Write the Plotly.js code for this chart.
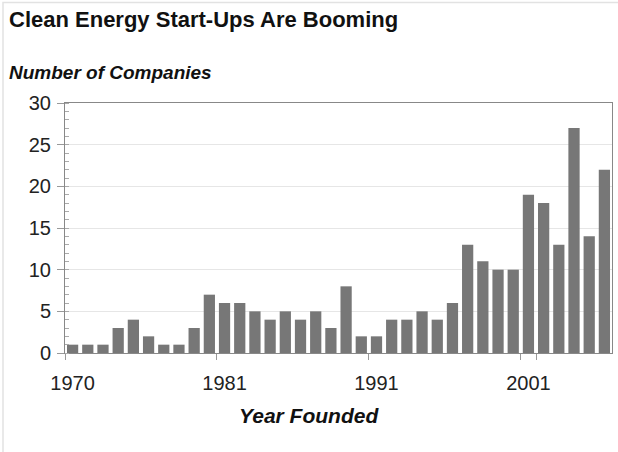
<!DOCTYPE html>
<html>
<head>
<meta charset="utf-8">
<script src="https://cdn.plot.ly/plotly-3.0.1.min.js"></script>
<style>
  html, body { margin: 0; padding: 0; background: #ffffff; }
  #chart { width: 618px; height: 452px; }
</style>
</head>
<body>
<div id="chart"></div>
<script>
// Categories (year founded) and counts
var years = ["1970", "1972", "1973", "1974", "1975", "1976", "1977", "1978", "1979", "1980",
             "1981", "1982", "1983", "1984", "1985", "1986", "1987", "1988", "1989", "1990",
             "1991", "1992", "1993", "1994", "1995", "1996", "1997", "1998", "1999", "2000",
             "2001", "2002", "2003", "2004", "2005", "2006"];
var companies = [1, 1, 1, 3, 4, 2, 1, 1, 3, 7,
                 6, 6, 5, 4, 5, 4, 5, 3, 8, 2,
                 2, 4, 4, 5, 4, 6, 13, 11, 10, 10,
                 19, 18, 13, 27, 14, 22];
var xTickLabels = ["1970", "1981", "1991", "2001"];
var yTickValues = [0, 5, 10, 15, 20, 25, 30];

var W = 618, H = 452;
var L = 65, R = 6, T = 103, B = 99;
var pw = W - L - R, ph = H - T - B;
function px(x) { return (x - L) / pw; }
function py(y) { return (H - B - y) / ph; }

var trace = {
  type: "bar",
  x: years,
  y: companies,
  marker: { color: "#777777", line: { width: 0 } },
  hoverinfo: "x+y"
};

var font = "Liberation Sans, Arial, sans-serif";

var layout = {
  width: W, height: H,
  margin: { l: L, r: R, t: T, b: B, pad: 0 },
  paper_bgcolor: "#ffffff",
  plot_bgcolor: "#ffffff",
  showlegend: false,
  bargap: 0.26,
  font: { family: font, color: "#222222" },
  xaxis: {
    type: "category",
    tickmode: "array",
    tickvals: xTickLabels,
    ticktext: xTickLabels,
    tickson: "boundaries",
    tickangle: 0,
    ticks: "outside",
    ticklen: 6,
    tickcolor: "#999999",
    ticklabelstandoff: 12,
    showgrid: false,
    showline: true,
    linecolor: "#888888",
    linewidth: 1,
    mirror: true,
    tickfont: { family: font, size: 20, color: "#222222" },
    automargin: false
  },
  yaxis: {
    range: [0, 30],
    tickmode: "array",
    tickvals: yTickValues,
    ticks: "outside",
    ticklen: 7,
    tickcolor: "#999999",
    ticklabelstandoff: 2,
    showgrid: true,
    gridcolor: "#e6e6e6",
    gridwidth: 1,
    zeroline: false,
    showline: true,
    linecolor: "#888888",
    linewidth: 1,
    mirror: true,
    tickfont: { family: font, size: 20, color: "#222222" },
    minor: { ticks: "inside", dtick: 1, ticklen: 4, tickcolor: "#aaaaaa", showgrid: false },
    automargin: false
  },
  annotations: [
    { text: "<b>Clean Energy Start-Ups Are Booming</b>", xref: "paper", yref: "paper",
      x: px(7), y: py(19.5), xanchor: "left", yanchor: "middle", showarrow: false,
      font: { family: font, size: 22, color: "#111111" } },
    { text: "<b><i>Number of Companies</i></b>", xref: "paper", yref: "paper",
      x: px(7), y: py(72.5), xanchor: "left", yanchor: "middle", showarrow: false,
      font: { family: font, size: 19, color: "#111111" } },
    { text: "<b><i>Year Founded</i></b>", xref: "paper", yref: "paper",
      x: px(309), y: py(415.5), xanchor: "center", yanchor: "middle", showarrow: false,
      font: { family: font, size: 21, color: "#111111" } }
  ],
  shapes: [
    { type: "rect", xref: "paper", yref: "paper",
      x0: px(3), x1: px(630), y0: py(470), y1: py(2.5),
      line: { color: "#e2e2e2", width: 1.5 }, fillcolor: "rgba(0,0,0,0)", layer: "below" }
  ]
};

Plotly.newPlot("chart", [trace], layout, { displayModeBar: false, staticPlot: true });
</script>
</body>
</html>
